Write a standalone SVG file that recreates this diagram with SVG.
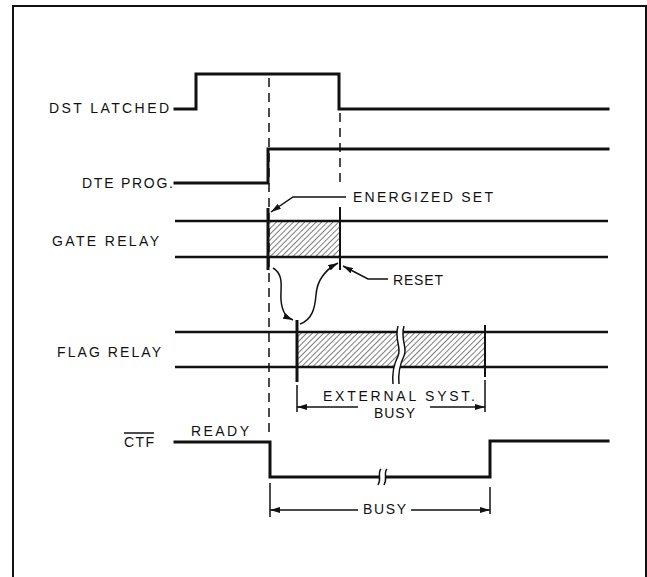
<svg xmlns="http://www.w3.org/2000/svg" width="647" height="577" viewBox="0 0 647 577">
<style>
 .sig{fill:none;stroke:#111;stroke-width:3;stroke-linecap:square;stroke-linejoin:miter}
 .rel{fill:none;stroke:#111;stroke-width:2.5}
 .tick{fill:none;stroke:#111;stroke-width:3}
 .thin{fill:none;stroke:#111;stroke-width:1.5}
 .dash{fill:none;stroke:#111;stroke-width:1.5;stroke-dasharray:9 6}
 .hatch{fill:url(#hatch);stroke:none}
 text{font-family:"Liberation Sans",Arial,sans-serif;font-size:14px;fill:#111}
</style>
<defs>
 <pattern id="hatch" width="4" height="4" patternUnits="userSpaceOnUse" patternTransform="rotate(45)">
  <line x1="0" y1="0" x2="0" y2="4" stroke="#111" stroke-width="1.1"/>
 </pattern>
 <marker id="ah" viewBox="0 0 10 6" refX="10" refY="3" markerWidth="10" markerHeight="6" markerUnits="userSpaceOnUse" orient="auto">
  <path d="M0,0 L10,3 L0,6 z" fill="#111"/>
 </marker>
</defs>
<rect width="647" height="577" fill="#fff"/>
<path d="M13 577 L13 6 L646 6 L646 577" fill="none" stroke="#111" stroke-width="2"/>

<g id="dst-latched">
 <text x="49" y="113" textLength="120" lengthAdjust="spacing">DST LATCHED</text>
 <path class="sig" d="M175 109 L196 109 L196 74 L339 74 L339 109 L608 109"/>
</g>

<g id="dte-prog">
 <text x="82" y="188" textLength="91" lengthAdjust="spacing">DTE PROG.</text>
 <path class="sig" d="M175 183 L268 183 L268 149 L608 149"/>
</g>

<g id="gate-relay">
 <text x="52" y="246" textLength="107" lengthAdjust="spacing">GATE RELAY</text>
 <rect class="hatch" x="268" y="221" width="72" height="36"/>
 <line class="rel" x1="175" y1="221" x2="608" y2="221"/>
 <line class="rel" x1="175" y1="257" x2="608" y2="257"/>
 <line class="tick" x1="268" y1="208" x2="268" y2="270"/>
 <line class="thin" x1="340" y1="207" x2="340" y2="270" style="stroke-width:2"/>
</g>

<g id="flag-relay">
 <text x="57" y="357" textLength="104" lengthAdjust="spacing">FLAG RELAY</text>
 <rect class="hatch" x="297" y="332" width="188" height="35"/>
 <line class="rel" x1="175" y1="332" x2="608" y2="332"/>
 <line class="rel" x1="175" y1="367" x2="608" y2="367"/>
 <line class="tick" x1="297" y1="320" x2="297" y2="382"/>
 <line class="thin" x1="485" y1="325" x2="485" y2="377" style="stroke-width:2"/>
 <path d="M398 326 C394 340 402 348 398 356 C394 364 392 374 393 384 L399 384 C398 374 400 364 404 356 C408 348 400 340 404 326 Z" fill="#fff" stroke="none"/>
 <path class="thin" d="M398 326 C394 340 402 348 398 356 C394 364 392 374 393 384"/>
 <path class="thin" d="M404 326 C400 340 408 348 404 356 C400 364 398 374 399 384"/>
</g>

<g id="ctf">
 <text x="124" y="447" textLength="30" lengthAdjust="spacing">CTF</text>
 <line class="thin" x1="124" y1="433" x2="154" y2="433"/>
 <text x="191" y="436" textLength="58" lengthAdjust="spacing">READY</text>
 <path class="sig" d="M175 442 L270 442 L270 477 L490 477 L490 441 L608 441"/>
 <rect x="379" y="472" width="7" height="10" fill="#fff"/>
 <path class="thin" d="M381 469 C377 473 382 478 378 485"/>
 <path class="thin" d="M387 469 C383 473 388 478 384 485"/>
</g>

<g id="energized-set">
 <text x="353" y="202" textLength="140" lengthAdjust="spacing">ENERGIZED SET</text>
</g>

<g id="reset">
 <text x="393" y="285" textLength="50" lengthAdjust="spacing">RESET</text>
</g>

<g id="external-syst-busy">
 <text x="323" y="401" textLength="152" lengthAdjust="spacing">EXTERNAL SYST.</text>
 <text x="374" y="418" textLength="41" lengthAdjust="spacing">BUSY</text>
</g>

<g id="busy">
 <text x="363" y="514" textLength="43" lengthAdjust="spacing">BUSY</text>
</g>

<g id="connectors">
 <line class="dash" x1="269" y1="78" x2="269" y2="438"/>
 <line class="dash" x1="340" y1="113" x2="340" y2="186"/>
 <path class="thin" d="M346 197 L293 197 L271 212" marker-end="url(#ah)"/>
 <path class="thin" d="M388 279 L368 279 L343 266" marker-end="url(#ah)"/>
 <path class="thin" d="M273 268 C285 275 280 290 281 300 C282 312 286 317 293 320" marker-end="url(#ah)"/>
 <path class="thin" d="M300 324 C312 320 315 308 316 295 C317 280 325 270 338 263" marker-end="url(#ah)"/>
 <line class="thin" x1="297" y1="385" x2="297" y2="412"/>
 <line class="thin" x1="485" y1="380" x2="485" y2="412"/>
 <line class="thin" x1="358" y1="407" x2="297" y2="407" marker-end="url(#ah)"/>
 <line class="thin" x1="430" y1="407" x2="485" y2="407" marker-end="url(#ah)"/>
 <line class="thin" x1="270" y1="483" x2="270" y2="517"/>
 <line class="thin" x1="490" y1="487" x2="490" y2="514"/>
 <line class="thin" x1="358" y1="510" x2="270" y2="510" marker-end="url(#ah)"/>
 <line class="thin" x1="411" y1="510" x2="490" y2="510" marker-end="url(#ah)"/>
</g>
</svg>
